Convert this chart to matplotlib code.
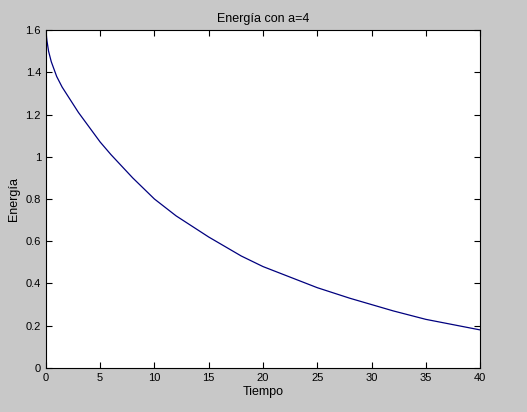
import matplotlib.pyplot as plt

# valores
tiempo = [0, 0.1, 0.25, 0.5, 1, 1.5, 2, 3, 4, 5, 6, 8, 10, 12, 15, 18, 20, 22, 25, 28, 30, 32, 35, 38, 40]
energia = [1.6, 1.55, 1.5, 1.45, 1.38, 1.33, 1.29, 1.21, 1.14, 1.07, 1.01, 0.90, 0.80, 0.72, 0.62,
           0.53, 0.48, 0.44, 0.38, 0.33, 0.30, 0.27, 0.23, 0.20, 0.18]

plt.rcParams['font.family'] = ['Liberation Sans', 'DejaVu Sans']
plt.rcParams['font.size'] = 8

fig = plt.figure(figsize=(5.27, 4.12), dpi=100, facecolor='#c8c8c8')
ax = fig.add_axes([0.087, 0.107, 0.824, 0.820])
ax.plot(tiempo, energia, color='#00007f', linewidth=0.9)
ax.set_xlim(0, 40)
ax.set_ylim(0, 1.6)
ax.set_xticks(range(0, 41, 5))
ax.set_yticks([0, 0.2, 0.4, 0.6, 0.8, 1, 1.2, 1.4, 1.6])
ax.set_yticklabels(['0', '0.2', '0.4', '0.6', '0.8', '1', '1.2', '1.4', '1.6'])
ax.tick_params(direction='in', length=4, top=True, right=True)
ax.set_title("Energía con a=4", fontsize=9)
ax.set_xlabel("Tiempo", fontsize=9, labelpad=2)
ax.set_ylabel("Energía", fontsize=9)
fig.savefig("out.png", facecolor=fig.get_facecolor())
